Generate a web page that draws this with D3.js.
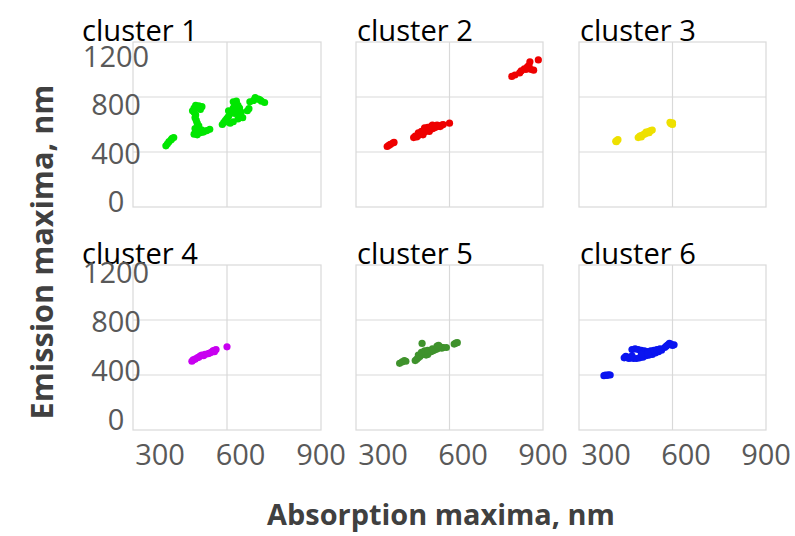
<!DOCTYPE html>
<html><head><meta charset="utf-8">
<script src="https://cdn.jsdelivr.net/npm/d3@7"></script>
<style>body{margin:0;background:#fff}svg{display:block}</style>
</head><body><div id="c"></div>
<script>
const clusterNames = ["cluster 1","cluster 2","cluster 3","cluster 4","cluster 5","cluster 6"];
const clusterColors = ["#00e600","#ee0000","#eee000","#c800f0","#3f922c","#0a14f0"];
const xTicks = [300,600,900];
const yTicks = [0,400,800,1200];
const xGrid = [600];
const yGrid = [400,800];

const cluster1 = [[405,445],[410,460],[415,475],[422,490],[430,505],[425,500],
 [490,700],[495,720],[500,740],[510,735],[520,730],[515,710],[495,690],[500,670],[498,650],[502,630],[505,610],[510,590],[498,570],[500,550],[495,530],[505,525],[515,540],[525,545],[535,555],[545,565],[520,560],[510,575],
 [585,600],[590,615],[595,630],[600,645],[605,660],[610,680],[615,700],[620,720],[625,745],[620,765],[630,770],[635,740],[640,720],[630,700],[645,690],[640,660],[650,650],[635,640],[620,620],[610,610],[600,620],[625,680],[605,700],
 [665,700],[670,715],[673,765],[690,795],[700,785],[710,770],[720,760],[705,780],[685,775]];
const cluster2 = [[400,440],[405,448],[410,455],[418,465],[422,470],
 [485,505],[490,515],[495,510],[500,520],[505,530],[510,535],[515,525],[520,545],[525,555],[530,560],[535,550],[540,565],[545,570],[550,575],[555,580],[560,585],[565,590],[570,585],[575,595],[580,600],[510,550],[520,575],[530,580],[540,585],[550,590],[560,595],[500,540],[545,595],
 [600,610],
 [800,950],[810,960],[825,975],[830,990],[840,1005],[855,1030],[858,1056],[862,1000],[870,995],[885,1070],[850,1020],[845,1000]];
const cluster3 = [[418,478],[422,485],[425,490],[420,475],
 [490,505],[495,515],[500,520],[505,525],[510,530],[515,535],[520,545],[525,550],[530,555],[535,560],[500,510],[515,545],[525,540],
 [595,605],[600,612],[592,615],[600,600]];
const cluster4 = [[488,500],[492,510],[498,515],[505,525],[510,530],[515,540],[520,545],[525,540],[530,550],[540,555],[545,560],[550,565],[555,575],[560,580],[565,585],[560,570],[600,605]];
const cluster5 = [[440,485],[448,495],[455,505],[460,500],
 [490,505],[495,515],[500,525],[505,535],[510,545],[515,555],[520,560],[525,545],[530,550],[535,565],[540,570],[545,575],[550,580],[555,585],[560,590],[565,600],[570,605],[575,595],[580,600],[590,600],[500,545],[510,565],[520,575],[530,580],[545,590],[560,610],[565,615],[512,630],
 [615,625],[620,632],[625,635]];
const cluster6 = [[380,395],[385,400],[390,398],[395,402],[400,400],
 [445,525],[450,535],[455,530],[460,520],[465,525],[475,520],[485,520],[495,525],[505,530],[515,540],[525,545],[535,550],[545,560],[555,570],[565,580],[470,585],[480,590],[490,585],[500,580],[510,575],[520,570],[530,575],[540,580],[550,585],[560,590],[575,600],[585,620],[590,630],[595,625],[600,615],[605,620],[580,610],[470,540],[500,550],[520,555]];
const clusters = [cluster1,cluster2,cluster3,cluster4,cluster5,cluster6];

const W=795,H=536;
const svg=d3.select("#c").append("svg").attr("width",W).attr("height",H);
const colL=[133,356,579], colR=[321,543,766];
const rowT=[42,265], rowB=[207,430];
const labBase=[[212,67],[430,283]];
const titleBase=[41,264];
const titleX=[82,357,580];
const FONT="'Open Sans', sans-serif";

function fitText(sel,target){
  const n=sel.node(); const fs=parseFloat(sel.attr("font-size"));
  const w=n.getComputedTextLength(); if(w>0) sel.attr("font-size",fs*target/w);
}

clusters.forEach((data,i)=>{
  const r=Math.floor(i/3), c=i%3;
  const x=d3.scaleLinear().domain([300,900]).range([colL[c],colR[c]]);
  const y=d3.scaleLinear().domain([0,1200]).range([rowB[r],rowT[r]]);
  const g=svg.append("g");
  g.selectAll("line.hg").data(yGrid).join("line").attr("x1",x(300)).attr("x2",x(900))
    .attr("y1",d=>y(d)).attr("y2",d=>y(d)).attr("stroke","#d9d9d9").attr("stroke-width",1.2);
  g.selectAll("line.vg").data(xGrid).join("line").attr("y1",y(0)).attr("y2",y(1200))
    .attr("x1",d=>x(d)).attr("x2",d=>x(d)).attr("stroke","#d9d9d9").attr("stroke-width",1.2);
  g.append("rect").attr("x",x(300)).attr("y",y(1200)).attr("width",x(900)-x(300)).attr("height",y(0)-y(1200))
    .attr("fill","none").attr("stroke","#d9d9d9").attr("stroke-width",1.2);
  g.selectAll("circle").data(data).join("circle").attr("cx",d=>x(d[0])).attr("cy",d=>y(d[1]))
    .attr("r",3.6).attr("fill",clusterColors[i]);
  const t=svg.append("text").attr("x",titleX[c]).attr("y",titleBase[r]).attr("font-family",FONT)
    .attr("font-size",27).attr("fill","#000").text(clusterNames[i]);
  fitText(t,116);
  if(c===0){
    const yl=d3.scaleLinear().domain([0,1200]).range(labBase[r]);
    svg.selectAll(null).data(yTicks).join("text").attr("x",116).attr("y",d=>yl(d))
      .attr("text-anchor","middle").attr("font-family",FONT).attr("font-size",29).attr("fill","#595959").text(d=>d);
  }
  if(r===1){
    const xl=d3.scaleLinear().domain([300,900]).range([colL[c]+27,colR[c]]);
    svg.selectAll(null).data(xTicks).join("text").attr("x",d=>xl(d)).attr("y",465)
      .attr("text-anchor","middle").attr("font-family",FONT).attr("font-size",29).attr("fill","#595959").text(d=>d);
  }
});

const xt=svg.append("text").attr("x",441).attr("y",525).attr("text-anchor","middle").attr("font-family",FONT)
  .attr("font-weight","bold").attr("font-size",24).attr("fill","#404040").text("Absorption maxima, nm");
fitText(xt,348);
const yt=svg.append("text").attr("transform","translate(53,252) rotate(-90)").attr("text-anchor","middle").attr("font-family",FONT)
  .attr("font-weight","bold").attr("font-size",24).attr("fill","#404040").text("Emission maxima, nm");
fitText(yt,335);
</script></body></html>
